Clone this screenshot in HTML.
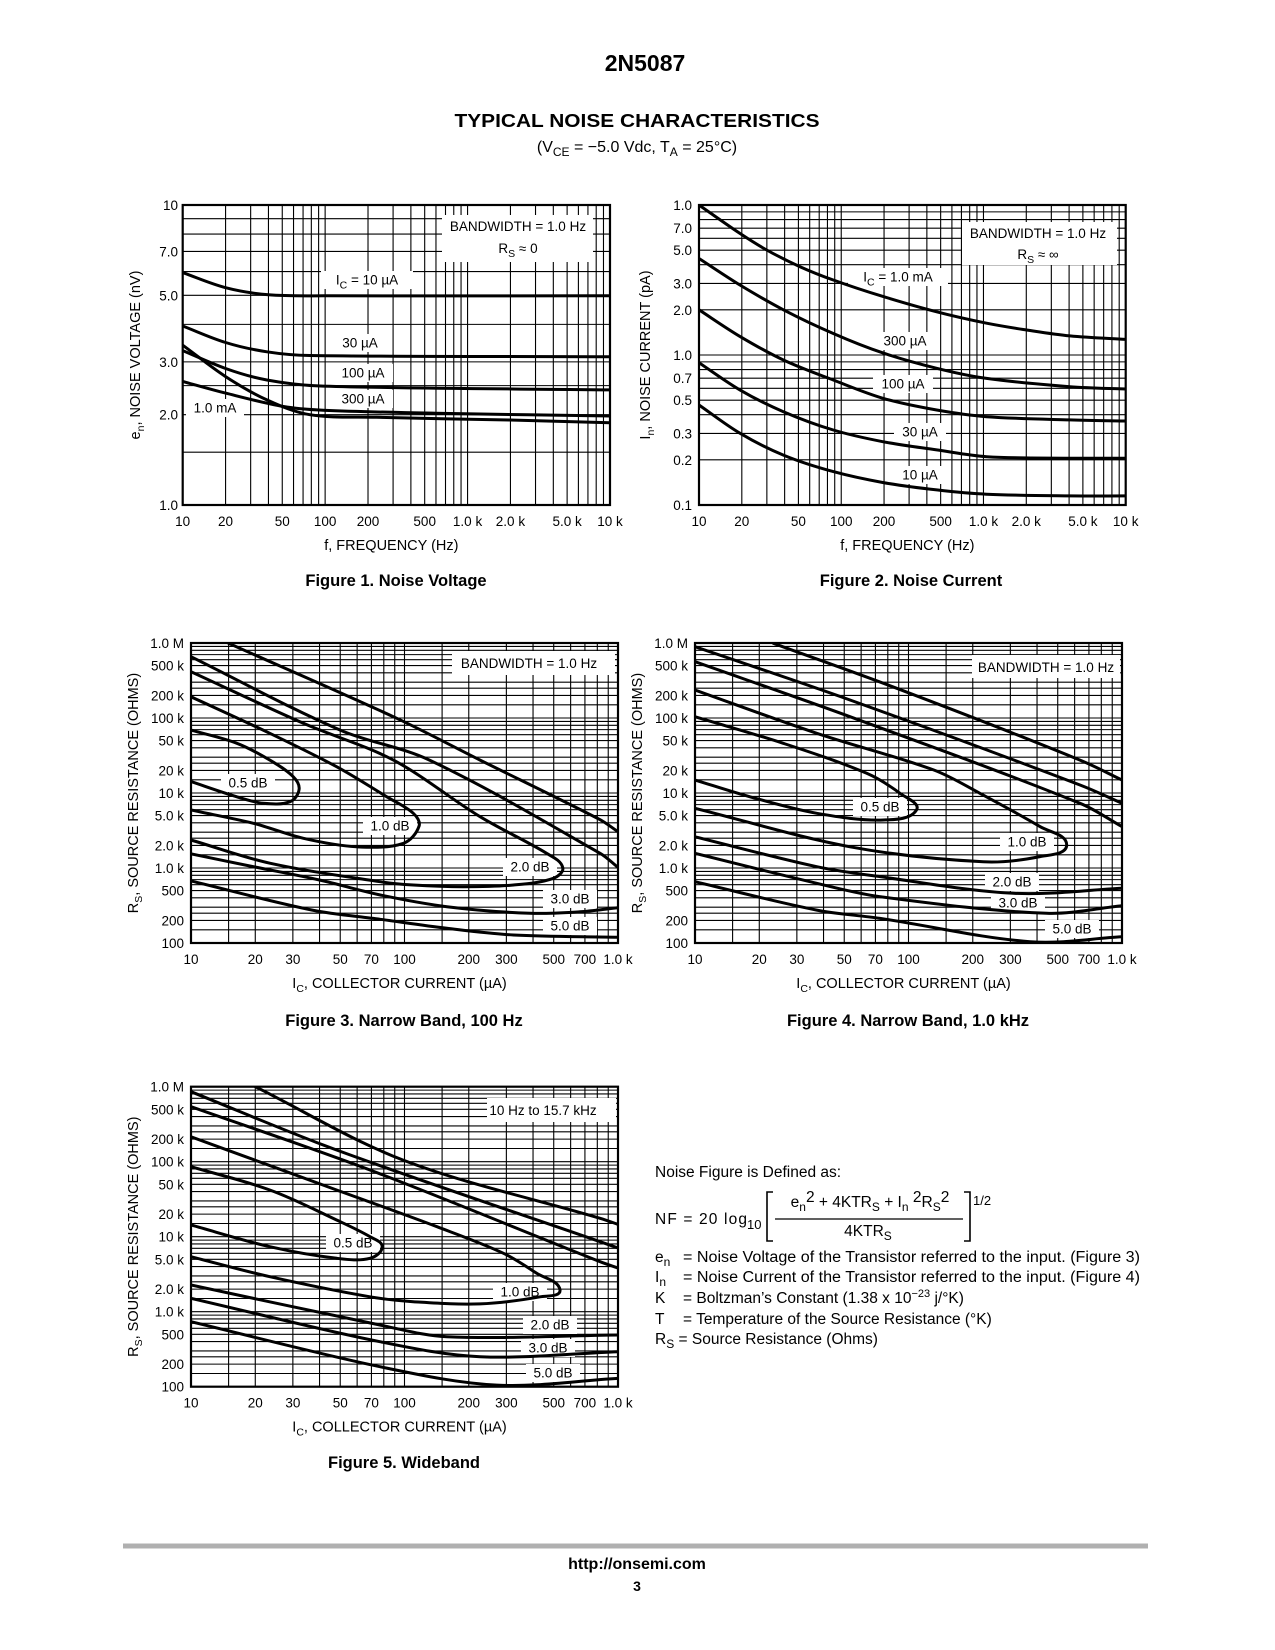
<!DOCTYPE html>
<html><head><meta charset="utf-8"><title>2N5087 Typical Noise Characteristics</title>
<style>
html,body{margin:0;padding:0;background:#fff;}
svg{display:block;font-family:"Liberation Sans",Arial,sans-serif;}
</style></head>
<body>
<svg id="page" width="1275" height="1650" viewBox="0 0 1275 1650" xmlns="http://www.w3.org/2000/svg">
<rect x="0" y="0" width="1275" height="1650" fill="#fff"/>
<text x="645" y="71" font-size="23" font-weight="bold" text-anchor="middle">2N5087</text>
<text x="637" y="127" font-size="18.5" font-weight="bold" text-anchor="middle" textLength="365" lengthAdjust="spacingAndGlyphs">TYPICAL NOISE CHARACTERISTICS</text>
<text x="637" y="152" font-size="16" text-anchor="middle">(V<tspan font-size="12" dy="4">CE</tspan><tspan dy="-4"> = −5.0 Vdc, T</tspan><tspan font-size="12" dy="4">A</tspan><tspan dy="-4"> = 25°C)</tspan></text>

<g id="charts"></g>

<text x="396" y="586" font-size="16.5" font-weight="bold" text-anchor="middle">Figure 1. Noise Voltage</text>
<text x="911" y="586" font-size="16.5" font-weight="bold" text-anchor="middle">Figure 2. Noise Current</text>
<text x="404" y="1026" font-size="16.5" font-weight="bold" text-anchor="middle">Figure 3. Narrow Band, 100 Hz</text>
<text x="908" y="1026" font-size="16.5" font-weight="bold" text-anchor="middle">Figure 4. Narrow Band, 1.0 kHz</text>
<text x="404" y="1468" font-size="16.5" font-weight="bold" text-anchor="middle">Figure 5. Wideband</text>

<g font-size="15.5">
<text x="655" y="1177">Noise Figure is Defined as:</text>
<text x="655" y="1224" textLength="92" lengthAdjust="spacing">NF  =  20 log</text>
<text x="747" y="1229" font-size="13">10</text>
<path d="M773,1192 H767 V1241 H773" fill="none" stroke="#000" stroke-width="1.6"/>
<text x="870" y="1207" text-anchor="middle">e<tspan font-size="12" dy="4">n</tspan><tspan dy="-9">2</tspan><tspan dy="5"> + 4KTR</tspan><tspan font-size="12" dy="4">S</tspan><tspan dy="-4"> + I</tspan><tspan font-size="12" dy="4">n</tspan><tspan dy="-9"> 2</tspan><tspan dy="5">R</tspan><tspan font-size="12" dy="4">S</tspan><tspan dy="-9">2</tspan></text>
<line x1="775" y1="1219" x2="963" y2="1219" stroke="#000" stroke-width="1.2"/>
<text x="868" y="1236" text-anchor="middle">4KTR<tspan font-size="12" dy="4">S</tspan></text>
<path d="M964,1192 H970 V1241 H964" fill="none" stroke="#000" stroke-width="1.6"/>
<text x="973" y="1205" font-size="13">1/2</text>
<text x="655" y="1262">e<tspan font-size="12" dy="4">n</tspan></text>
<text x="683" y="1262" textLength="457" lengthAdjust="spacingAndGlyphs">= Noise Voltage of the Transistor referred to the input. (Figure 3)</text>
<text x="655" y="1282">I<tspan font-size="12" dy="4">n</tspan></text>
<text x="683" y="1282" textLength="457" lengthAdjust="spacingAndGlyphs">= Noise Current of the Transistor referred to the input. (Figure 4)</text>
<text x="655" y="1303">K</text>
<text x="683" y="1303">= Boltzman’s Constant (1.38 x 10<tspan font-size="11" dy="-6">−23</tspan><tspan dy="6"> j/°K)</tspan></text>
<text x="655" y="1324">T</text>
<text x="683" y="1324">= Temperature of the Source Resistance (°K)</text>
<text x="655" y="1344">R<tspan font-size="12" dy="4">S</tspan><tspan dy="-4"> = Source Resistance (Ohms)</tspan></text>
</g>

<line x1="123" y1="1546" x2="1148" y2="1546" stroke="#b0b0b0" stroke-width="5"/>
<text x="637" y="1569" font-size="16" font-weight="bold" text-anchor="middle">http://onsemi.com</text>
<text x="637" y="1591" font-size="14" font-weight="bold" text-anchor="middle">3</text>
</svg>

<script>
// ---------------- Figure 1 data: noise voltage (nV) vs frequency (Hz) ----------------
const f1_10uA_f = [10, 20, 40, 100, 10000];
const f1_10uA_v = [5.95, 5.3, 5.02, 4.98, 4.98];
const f1_30uA_f = [10, 20, 39, 78, 10000];
const f1_30uA_v = [3.95, 3.48, 3.24, 3.15, 3.12];
const f1_100uA_f = [10, 20, 39, 97, 10000];
const f1_100uA_v = [3.27, 2.85, 2.61, 2.49, 2.42];
const f1_300uA_f = [10, 20, 51, 97, 676, 10000];
const f1_300uA_v = [2.58, 2.36, 2.13, 2.07, 2.02, 1.98];
const f1_1mA_f = [10, 20, 39, 78, 230, 1987, 10000];
const f1_1mA_v = [3.41, 2.68, 2.24, 2.0, 1.96, 1.92, 1.88];
const f1_xticks = [10, 20, 50, 100, 200, 500, 1000, 2000, 5000, 10000];
const f1_xtickLabels = ["10", "20", "50", "100", "200", "500", "1.0 k", "2.0 k", "5.0 k", "10 k"];
const f1_yticks = [1, 2, 3, 5, 7, 10];
const f1_ytickLabels = ["1.0", "2.0", "3.0", "5.0", "7.0", "10"];

// ---------------- Figure 2 data: noise current (pA) vs frequency (Hz) ----------------
const f2_1mA_f = [10, 19.4, 29.9, 51.3, 87.9, 198, 469, 1052, 1906, 4055, 10000];
const f2_1mA_v = [10, 6.47, 5.01, 3.88, 3.16, 2.45, 1.94, 1.63, 1.48, 1.34, 1.27];
const f2_freq = [10, 19.4, 39.2, 87.9, 198, 469, 1052, 4055, 10000];
const f2_300uA_v = [4.4, 2.93, 2.0, 1.39, 1.03, 0.815, 0.698, 0.615, 0.593];
const f2_100uA_v = [2.0, 1.33, 0.926, 0.681, 0.514, 0.43, 0.388, 0.369, 0.363];
const f2_30uA_v = [0.889, 0.585, 0.419, 0.316, 0.264, 0.233, 0.21, 0.205, 0.205];
const f2_10uA_v = [0.464, 0.301, 0.215, 0.167, 0.141, 0.126, 0.118, 0.115, 0.115];
const f2_yticks = [0.1, 0.2, 0.3, 0.5, 0.7, 1, 2, 3, 5, 7, 10];
const f2_ytickLabels = ["0.1", "0.2", "0.3", "0.5", "0.7", "1.0", "2.0", "3.0", "5.0", "7.0", "1.0"];

// ---------------- Figures 3-5: noise-figure contours, [Ic (uA), Rs (ohms)] ----------------
const rs_xticks = [10, 20, 30, 50, 70, 100, 200, 300, 500, 700, 1000];
const rs_xtickLabels = ["10", "20", "30", "50", "70", "100", "200", "300", "500", "700", "1.0 k"];
const rs_yticks = [100, 200, 500, 1000, 2000, 5000, 10000, 20000, 50000, 100000, 200000, 500000, 1000000];
const rs_ytickLabels = ["100", "200", "500", "1.0 k", "2.0 k", "5.0 k", "10 k", "20 k", "50 k", "100 k", "200 k", "500 k", "1.0 M"];

const f3_5dB_upper = [[15, 990000], [92, 99000], [226, 27500], [824, 4400], [1000, 3050]];
const f3_5dB_lower = [[10, 670], [37, 275], [77, 207], [158, 157], [324, 128], [1000, 119]];
const f3_3dB_upper = [[10, 656000], [50, 69000], [131, 27500], [824, 1570], [1000, 1020]];
const f3_3dB_lower = [[10, 1540], [19, 1060], [40, 692], [77, 437], [158, 305], [387, 249], [664, 261], [1000, 296]];
const f3_2dB = [[10, 414000], [33.6, 85000], [88.7, 27500], [226, 4830], [463, 1570], [551, 1020], [498, 729], [324, 593], [188, 563], [110, 593], [76.7, 656], [23.4, 1160], [10, 2360]];
const f3_1dB = [[10, 192000], [23.4, 62500], [48.1, 22400], [82.6, 8900], [110, 5360], [117, 3630], [98.6, 2130], [59.7, 1920], [33.6, 2490], [19.6, 3940], [10, 5930]];
const f3_05dB = [[10, 69000], [16.4, 46000], [23.4, 27500], [30.1, 16500], [32.1, 11200], [29.1, 7660], [21.8, 7300], [16.4, 8900], [10, 14200]];

const f4_5dB_upper = [[23.3, 991000], [88.1, 249000], [636, 27500], [1000, 14900]];
const f4_5dB_lower = [[10, 656], [37.2, 275], [73.6, 213], [371, 104], [1000, 121]];
const f4_3dB_upper = [[10, 893000], [53.2, 174000], [636, 12800], [1000, 7300]];
const f4_3dB_lower = [[10, 1570], [37.2, 625], [73.6, 414], [444, 249], [1000, 314]];
const f4_2dB_upper = [[10, 564000], [53.2, 104000], [636, 7300], [1000, 3560]];
const f4_2dB_lower = [[10, 2610], [37.2, 1040], [73.6, 766], [310, 460], [1000, 536]];
const f4_1dB = [[10, 236000], [37.2, 62500], [131, 20300], [216, 9900], [413, 3560], [551, 2030], [413, 1420], [224, 1210], [53.2, 1920], [10, 6250]];
const f4_05dB = [[10, 104000], [25.9, 46000], [63.7, 18300], [91.2, 9900], [109, 5930], [76.3, 4370], [37.2, 5360], [18.1, 8900], [10, 14900]];

const f5_5dB_upper = [[20, 1000000], [98.6, 105000], [824, 17600], [1000, 14600]];
const f5_5dB_lower = [[10, 736], [76.7, 185], [271, 105], [1000, 129]];
const f5_3dB_upper = [[10, 858000], [48.1, 143000], [824, 8580], [1000, 7060]];
const f5_3dB_lower = [[10, 1510], [76.7, 398], [226, 251], [1000, 293]];
const f5_2dB_upper = [[10, 541000], [68.9, 77500], [824, 4640], [1000, 3830]];
const f5_2dB_lower = [[10, 2270], [76.7, 665], [158, 464], [1000, 489]];
const f5_1dB = [[10, 215000], [48.1, 42000], [142, 13600], [291, 6010], [416, 3250], [535, 1950], [432, 1580], [226, 1270], [110, 1360], [68.9, 1580], [23.4, 2930], [10, 5410]];
const f5_05dB = [[10, 85800], [23.4, 42000], [48.1, 16700], [68.9, 10000], [78.6, 7360], [68.9, 5150], [48.1, 5150], [23.4, 7360], [10, 14300]];

// ---------------- rendering ----------------
const NS = "http://www.w3.org/2000/svg";
const root = document.getElementById("charts");
function el(tag, attrs, parent) {
  const e = document.createElementNS(NS, tag);
  for (const k in attrs) e.setAttribute(k, attrs[k]);
  (parent || root).appendChild(e);
  return e;
}
function logAxis(p0, p1, v0, v1) {
  const a = Math.log10(v0), b = Math.log10(v1);
  return v => p0 + (p1 - p0) * (Math.log10(v) - a) / (b - a);
}
function dist(a, b) { return Math.hypot(b[0] - a[0], b[1] - a[1]) || 1e-6; }
function spline(pts) {
  let d = "M" + pts[0][0].toFixed(1) + "," + pts[0][1].toFixed(1);
  const n = pts.length;
  const tan = pts.map((p, i) => {
    const a = pts[i - 1] || p, b = pts[i + 1] || p;
    const l = dist(a, b);
    return [(b[0] - a[0]) / l, (b[1] - a[1]) / l];
  });
  for (let i = 0; i < n - 1; i++) {
    const p1 = pts[i], p2 = pts[i + 1];
    const L = dist(p1, p2) / 3;
    const c1x = p1[0] + tan[i][0] * L, c1y = p1[1] + tan[i][1] * L;
    const c2x = p2[0] - tan[i + 1][0] * L, c2y = p2[1] - tan[i + 1][1] * L;
    d += " C" + c1x.toFixed(1) + "," + c1y.toFixed(1) + " " + c2x.toFixed(1) + "," + c2y.toFixed(1) + " " + p2[0].toFixed(1) + "," + p2[1].toFixed(1);
  }
  return d;
}
function decadeValues(min, max, extra) {
  const out = [];
  for (let e = Math.floor(Math.log10(min)); e <= Math.ceil(Math.log10(max)); e++) {
    const mults = [1, 2, 3, 4, 5, 6, 7, 8, 9].concat(extra || []);
    for (const m of mults) {
      const v = m * Math.pow(10, e);
      if (v >= min * 0.999 && v <= max * 1.001) out.push(v);
    }
  }
  return out;
}
let clipCount = 0;
function makeChart(c) {
  const g = el("g", {});
  
  
  const X = logAxis(c.x0, c.x1, c.xmin, c.xmax);
  const Y = logAxis(c.y0, c.y1, c.ymin, c.ymax);
  const grid = el("g", { stroke: "#000", "stroke-width": "1.1" }, g);
  
  
  for (const v of decadeValues(c.xmin, c.xmax, c.xextra)) {
    const ln = el("line", { x1: X(v), x2: X(v), y1: c.y1, y2: c.y0 }, grid);
    
    
  }
  for (const v of decadeValues(c.ymin, c.ymax, c.yextra)) {
    const ln = el("line", { x1: c.x0, x2: c.x1, y1: Y(v), y2: Y(v) }, grid);
    
    
  }
  for (const L of c.labels) {
    const r = el("rect", { x: L.cx - L.w / 2, y: L.cy - 9, width: L.w, height: 18, fill: "#fff" }, g);
    
    
  }
  if (c.box) {
    const r = el("rect", { x: c.box[0], y: c.box[1], width: c.box[2], height: c.box[3], fill: "#fff" }, g);
    
    
  }
  const border = el("rect", { x: c.x0, y: c.y1, width: c.x1 - c.x0, height: c.y0 - c.y1, fill: "none", stroke: "#000", "stroke-width": "2.2" }, g);
  
  
  const id = "clip" + (clipCount++);
  const cp = el("clipPath", { id: id }, g);
  el("rect", { x: c.x0, y: c.y1, width: c.x1 - c.x0, height: c.y0 - c.y1 }, cp);
  const cg = el("g", { "clip-path": "url(#" + id + ")" }, g);
  for (const s of c.series) {
    const pts = s.pts.map(p => [X(p[0]), Y(p[1])]);
    const path = el("path", { d: spline(pts), fill: "none", stroke: "#000", "stroke-width": "3", "stroke-linecap": "round", "stroke-linejoin": "round" }, cg);
    
    
  }
  for (const L of c.labels) {
    const t = el("text", { x: L.cx, y: L.cy + 4.5, "font-size": "13.5", "text-anchor": "middle" }, g);
    
    
    t.innerHTML = L.html;
  }
  if (c.boxText) {
    for (const B of c.boxText) {
      const t = el("text", { x: B.x, y: B.y, "font-size": "13.5", "text-anchor": "middle" }, g);
      
      
      t.innerHTML = B.html;
    }
  }
  c.xticks.forEach((v, i) => {
    const t = el("text", { x: X(v), y: c.y0 + 21, "font-size": "13.5", "text-anchor": "middle" }, g);
    
    
    t.textContent = c.xtickLabels[i];
  });
  c.yticks.forEach((v, i) => {
    const t = el("text", { x: c.ylabelX, y: Y(v) + 5, "font-size": "13.5", "text-anchor": "end" }, g);
    
    
    t.textContent = c.ytickLabels[i];
  });
  const xt = el("text", { x: (c.x0 + c.x1) / 2 - 5, y: c.y0 + 45, "font-size": "14.5", "text-anchor": "middle" }, g);
  
  
  xt.innerHTML = c.xtitle;
  const cy = (c.y0 + c.y1) / 2;
  const yt = el("text", { x: c.ytitleX, y: cy, "font-size": "14.5", "text-anchor": "middle", transform: "rotate(-90 " + c.ytitleX + " " + cy + ")" }, g);
  
  
  yt.innerHTML = c.ytitle;
}
const sub = s => '<tspan font-size="10.5" dy="4">' + s + '</tspan><tspan dy="-4">';
const zip = (a, b) => a.map((v, i) => [v, b[i]]);

makeChart({
  name: "figure-1-noise-voltage-chart", x0: 182.7, x1: 610, xmin: 10, xmax: 10000, y0: 505, y1: 205, ymin: 1, ymax: 10,
  yextra: [1.5, 2.5],
  series: [
    { name: "line-ic-10ua", pts: zip(f1_10uA_f, f1_10uA_v) },
    { name: "line-ic-30ua", pts: zip(f1_30uA_f, f1_30uA_v) },
    { name: "line-ic-100ua", pts: zip(f1_100uA_f, f1_100uA_v) },
    { name: "line-ic-300ua", pts: zip(f1_300uA_f, f1_300uA_v) },
    { name: "line-ic-1ma", pts: zip(f1_1mA_f, f1_1mA_v) }
  ],
  labels: [
    { cx: 367, cy: 280, w: 92, html: "I" + sub("C") + " = 10 µA</tspan>" },
    { cx: 360, cy: 343, w: 52, html: "30 µA" },
    { cx: 363, cy: 373, w: 60, html: "100 µA" },
    { cx: 363, cy: 399, w: 60, html: "300 µA" },
    { cx: 215, cy: 408, w: 58, html: "1.0 mA" }
  ],
  box: [442, 215, 151, 47],
  boxText: [{ x: 518, y: 231, html: "BANDWIDTH = 1.0 Hz" }, { x: 518, y: 253, html: "R" + sub("S") + " ≈ 0</tspan>" }],
  xticks: f1_xticks, xtickLabels: f1_xtickLabels, yticks: f1_yticks, ytickLabels: f1_ytickLabels, ylabelX: 178,
  xtitle: "f, FREQUENCY (Hz)", ytitle: "e" + sub("n") + ", NOISE VOLTAGE (nV)</tspan>", ytitleX: 140
});

makeChart({
  name: "figure-2-noise-current-chart", x0: 699, x1: 1125.7, xmin: 10, xmax: 10000, y0: 505, y1: 205, ymin: 0.1, ymax: 10,
  series: [
    { name: "line-ic-1ma", pts: zip(f2_1mA_f, f2_1mA_v) },
    { name: "line-ic-300ua", pts: zip(f2_freq, f2_300uA_v) },
    { name: "line-ic-100ua", pts: zip(f2_freq, f2_100uA_v) },
    { name: "line-ic-30ua", pts: zip(f2_freq, f2_30uA_v) },
    { name: "line-ic-10ua", pts: zip(f2_freq, f2_10uA_v) }
  ],
  labels: [
    { cx: 898, cy: 277, w: 100, html: "I" + sub("C") + " = 1.0 mA</tspan>" },
    { cx: 905, cy: 341, w: 60, html: "300 µA" },
    { cx: 903, cy: 384, w: 60, html: "100 µA" },
    { cx: 920, cy: 432, w: 52, html: "30 µA" },
    { cx: 920, cy: 475, w: 52, html: "10 µA" }
  ],
  box: [962, 222, 155, 43],
  boxText: [{ x: 1038, y: 238, html: "BANDWIDTH = 1.0 Hz" }, { x: 1038, y: 259, html: "R" + sub("S") + " ≈ ∞</tspan>" }],
  xticks: f1_xticks, xtickLabels: f1_xtickLabels, yticks: f2_yticks, ytickLabels: f2_ytickLabels, ylabelX: 692,
  xtitle: "f, FREQUENCY (Hz)", ytitle: "I" + sub("n") + ", NOISE CURRENT (pA)</tspan>", ytitleX: 650
});

function rsChart(name, x0, y0, series, labels, box, boxText, ylabelX, ytitleX) {
  makeChart({
    name: name, x0: x0, x1: x0 + 427, xmin: 10, xmax: 1000, y0: y0, y1: y0 - 300, ymin: 100, ymax: 1000000,
    xextra: [1.5], yextra: [1.5, 2.5],
    series: series, labels: labels, box: box, boxText: boxText,
    xticks: rs_xticks, xtickLabels: rs_xtickLabels, yticks: rs_yticks, ytickLabels: rs_ytickLabels, ylabelX: ylabelX,
    xtitle: "I" + sub("C") + ", COLLECTOR CURRENT (µA)</tspan>",
    ytitle: "R" + sub("S") + ", SOURCE RESISTANCE (OHMS)</tspan>", ytitleX: ytitleX
  });
}
const dbLab = (cx, cy, t) => ({ cx: cx, cy: cy, w: 54, html: t });

rsChart("figure-3-narrow-band-100hz-chart", 191, 943, [
  { name: "contour-5db-upper", pts: f3_5dB_upper }, { name: "contour-5db-lower", pts: f3_5dB_lower },
  { name: "contour-3db-upper", pts: f3_3dB_upper }, { name: "contour-3db-lower", pts: f3_3dB_lower },
  { name: "contour-2db", pts: f3_2dB }, { name: "contour-1db", pts: f3_1dB }, { name: "contour-0-5db", pts: f3_05dB }
], [dbLab(248, 783, "0.5 dB"), dbLab(390, 826, "1.0 dB"), dbLab(530, 867, "2.0 dB"), dbLab(570, 899, "3.0 dB"), dbLab(570, 926, "5.0 dB")],
  [452, 651, 163, 24], [{ x: 529, y: 668, html: "BANDWIDTH = 1.0 Hz" }], 184, 138);

rsChart("figure-4-narrow-band-1khz-chart", 695, 943, [
  { name: "contour-5db-upper", pts: f4_5dB_upper }, { name: "contour-5db-lower", pts: f4_5dB_lower },
  { name: "contour-3db-upper", pts: f4_3dB_upper }, { name: "contour-3db-lower", pts: f4_3dB_lower },
  { name: "contour-2db-upper", pts: f4_2dB_upper }, { name: "contour-2db-lower", pts: f4_2dB_lower },
  { name: "contour-1db", pts: f4_1dB }, { name: "contour-0-5db", pts: f4_05dB }
], [dbLab(880, 807, "0.5 dB"), dbLab(1027, 842, "1.0 dB"), dbLab(1012, 882, "2.0 dB"), dbLab(1018, 903, "3.0 dB"), dbLab(1072, 929, "5.0 dB")],
  [972, 655, 148, 23], [{ x: 1046, y: 672, html: "BANDWIDTH = 1.0 Hz" }], 688, 642);

rsChart("figure-5-wideband-chart", 191, 1386.7, [
  { name: "contour-5db-upper", pts: f5_5dB_upper }, { name: "contour-5db-lower", pts: f5_5dB_lower },
  { name: "contour-3db-upper", pts: f5_3dB_upper }, { name: "contour-3db-lower", pts: f5_3dB_lower },
  { name: "contour-2db-upper", pts: f5_2dB_upper }, { name: "contour-2db-lower", pts: f5_2dB_lower },
  { name: "contour-1db", pts: f5_1dB }, { name: "contour-0-5db", pts: f5_05dB }
], [dbLab(353, 1243, "0.5 dB"), dbLab(520, 1292, "1.0 dB"), dbLab(550, 1325, "2.0 dB"), dbLab(548, 1348, "3.0 dB"), dbLab(553, 1373, "5.0 dB")],
  [487, 1098, 129, 24], [{ x: 543, y: 1115, html: "10 Hz to 15.7 kHz" }], 184, 138);
</script>
</body></html>
